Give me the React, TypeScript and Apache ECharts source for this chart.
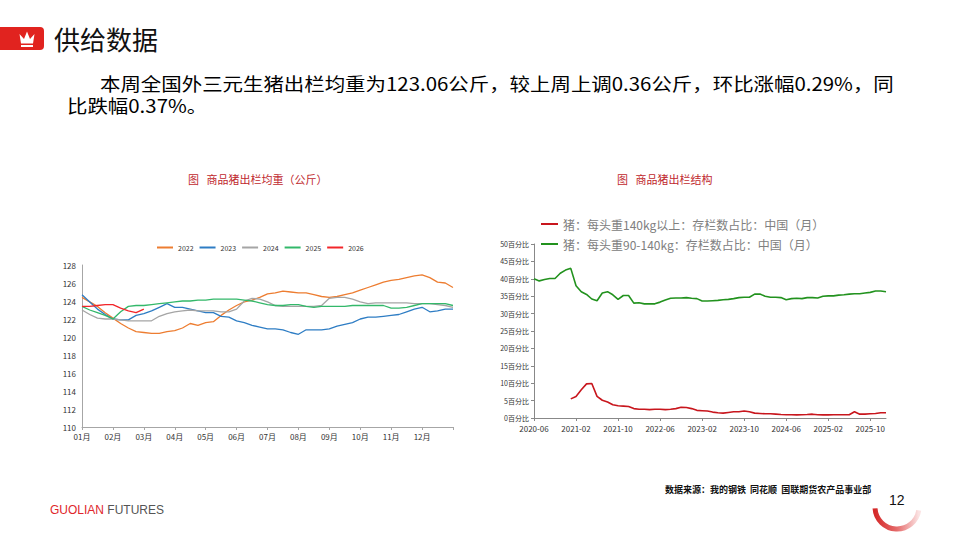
import { useEffect, useRef } from "react"
import * as echarts from "echarts"

// left chart: weekly average slaughter weight (kg), 4 points per month + year end
const months = ["01月", "02月", "03月", "04月", "05月", "06月", "07月", "08月", "09月", "10月", "11月", "12月"]
const weekCats = months.flatMap((m) => ["1", "2", "3", "4"].map((w) => m + "W" + w)).concat(["END"])

const years = ["2022", "2023", "2024", "2025", "2026"]
const yearColors = ["#ED7D31", "#2E7DC4", "#A5A5A5", "#33B86A", "#F2262A"]

const w2022 = [124.4, 123.9, 123.4, 122.7, 122.1, 121.5, 121.0, 120.6, 120.5, 120.4, 120.4, 120.6, 120.7, 121.0, 121.5, 121.3, 121.6, 121.7, 122.4, 123.0, 123.5, 123.9, 124.1, 124.4, 124.8, 124.9, 125.1, 125.0, 124.9, 124.9, 124.7, 124.5, 124.4, 124.5, 124.7, 124.9, 125.2, 125.5, 125.8, 126.1, 126.3, 126.4, 126.6, 126.8, 126.9, 126.6, 126.1, 126.0, 125.5]
const w2023 = [124.7, 123.9, 123.1, 122.5, 122.0, 121.9, 121.9, 122.4, 122.6, 122.9, 123.3, 123.7, 123.3, 123.3, 123.1, 122.9, 122.7, 122.7, 122.3, 122.2, 121.8, 121.6, 121.3, 121.1, 120.9, 120.9, 120.8, 120.5, 120.3, 120.8, 120.8, 120.8, 120.9, 121.2, 121.4, 121.6, 122.0, 122.2, 122.2, 122.3, 122.4, 122.5, 122.8, 123.1, 123.3, 122.8, 122.9, 123.1, 123.1]
const w2024 = [123.0, 122.5, 122.1, 122.0, 122.0, 121.9, 121.8, 121.8, 121.8, 121.8, 122.3, 122.6, 122.8, 122.9, 123.0, 122.9, 122.9, 122.9, 122.8, 122.8, 123.1, 124.0, 124.3, 124.2, 123.9, 123.5, 123.4, 123.4, 123.4, 123.4, 123.4, 123.5, 124.3, 124.4, 124.4, 124.2, 123.9, 123.7, 123.8, 123.8, 123.8, 123.8, 123.8, 123.7, 123.7, 123.7, 123.6, 123.5, 123.3]
const w2025 = [123.4, 123.0, 122.7, 122.4, 122.0, 122.8, 123.4, 123.5, 123.5, 123.6, 123.7, 123.8, 123.9, 124.0, 124.0, 124.1, 124.1, 124.2, 124.2, 124.2, 124.2, 124.1, 124.0, 123.8, 123.6, 123.5, 123.5, 123.6, 123.6, 123.4, 123.3, 123.4, 123.4, 123.4, 123.4, 123.5, 123.5, 123.5, 123.5, 123.5, 123.2, 123.2, 123.3, 123.5, 123.7, 123.7, 123.7, 123.7, 123.5]
const w2026 = [123.4, 123.4, 123.5, 123.6, 123.6, 123.2, 122.9, 122.7, 123.1]
const weightSeries = [w2022, w2023, w2024, w2025, w2026]

// right chart: monthly share of inventory by weight class (%)
const structMonths = [
  "2020-06", "2020-07", "2020-08", "2020-09", "2020-10", "2020-11", "2020-12",
  "2021-01", "2021-02", "2021-03", "2021-04", "2021-05", "2021-06", "2021-07", "2021-08", "2021-09", "2021-10", "2021-11", "2021-12",
  "2022-01", "2022-02", "2022-03", "2022-04", "2022-05", "2022-06", "2022-07", "2022-08", "2022-09", "2022-10", "2022-11", "2022-12",
  "2023-01", "2023-02", "2023-03", "2023-04", "2023-05", "2023-06", "2023-07", "2023-08", "2023-09", "2023-10", "2023-11", "2023-12",
  "2024-01", "2024-02", "2024-03", "2024-04", "2024-05", "2024-06", "2024-07", "2024-08", "2024-09", "2024-10", "2024-11", "2024-12",
  "2025-01", "2025-02", "2025-03", "2025-04", "2025-05", "2025-06", "2025-07", "2025-08", "2025-09", "2025-10", "2025-11", "2025-12",
  "2026-01",
]
const over140Name = "猪：每头重140kg以上：存栏数占比：中国（月）"
const mid90Name = "猪：每头重90-140kg：存栏数占比：中国（月）"
const over140 = [
  null, null, null, null, null, null, null,
  5.5, 6.2, 8.1, 9.8, 9.9, 6.2, 5.1, 4.6, 3.8, 3.5, 3.4, 3.3,
  2.7, 2.5, 2.5, 2.4, 2.5, 2.5, 2.4, 2.5, 2.7, 3.1, 3.0, 2.7,
  2.2, 2.1, 2.0, 1.7, 1.5, 1.4, 1.6, 1.8, 1.8, 2.0, 1.8, 1.4,
  1.3, 1.2, 1.2, 1.1, 1.0, 0.95, 0.95, 0.9, 0.95, 1.0, 1.1, 0.95,
  0.9, 0.9, 0.95, 0.95, 0.95, 0.95, 1.8, 1.1, 1.1, 1.2, 1.3, 1.5,
  1.5,
]
const mid90 = [
  40.0, 39.4, 39.8, 40.1, 40.1, 41.6, 42.5,
  43.0, 38.0, 36.3, 35.5, 34.2, 33.7, 35.9, 36.3, 35.4, 34.1, 35.2, 35.2,
  33.0, 33.1, 32.8, 32.8, 32.8, 33.3, 33.9, 34.4, 34.5, 34.5, 34.6, 34.4,
  34.3, 33.6, 33.6, 33.7, 33.8, 34.0, 34.1, 34.3, 34.6, 34.7, 34.7, 35.6,
  35.6, 35.0, 34.7, 34.7, 34.6, 34.0, 34.3, 34.4, 34.3, 34.6, 34.6, 34.5,
  35.0, 35.1, 35.1, 35.3, 35.4, 35.6, 35.7, 35.7, 35.9, 36.1, 36.5, 36.5,
  36.3,
]

const FONT = "Noto Sans CJK SC"

export default function App() {
  const chartRef = useRef<HTMLDivElement>(null)

  useEffect(() => {
    if (!chartRef.current) return
    const chart = echarts.init(chartRef.current, undefined, { renderer: "svg" })

    const option = {
      animation: false,
      backgroundColor: "#ffffff",
      textStyle: { fontFamily: FONT },
      legend: [
        {
          data: years,
          left: 152,
          top: 239,
          itemWidth: 16,
          itemHeight: 2,
          itemGap: 6,
          icon: "rect",
          textStyle: { fontSize: 7, color: "#333" },
        },
        {
          data: [over140Name, mid90Name],
          orient: "vertical",
          left: 536,
          top: 213,
          itemWidth: 17,
          itemHeight: 2,
          itemGap: 8,
          icon: "rect",
          textStyle: { fontSize: 12, color: "#808080" },
        },
      ],
      grid: [
        { left: 82, right: 506, top: 265, bottom: 130 },
        { left: 534, right: 73, top: 244, bottom: 139 },
      ],
      xAxis: [
        {
          type: "category",
          gridIndex: 0,
          data: weekCats,
          boundaryGap: false,
          axisLine: { lineStyle: { color: "#A6A6A6" } },
          axisTick: { interval: (i: number) => i % 4 === 0, length: 3, lineStyle: { color: "#A6A6A6" } },
          axisLabel: {
            interval: (i: number) => i % 4 === 0 && i < 48,
            formatter: (v: string) => v.slice(0, 3),
            fontSize: 8,
            color: "#333",
            margin: 5,
          },
        },
        {
          type: "category",
          gridIndex: 1,
          data: structMonths,
          boundaryGap: false,
          axisLine: { lineStyle: { color: "#888" } },
          axisTick: { interval: (i: number) => i % 8 === 0, length: 3, lineStyle: { color: "#888" } },
          axisLabel: {
            interval: (i: number) => i % 8 === 0,
            fontSize: 8,
            color: "#333",
            margin: 6,
          },
        },
      ],
      yAxis: [
        {
          type: "value",
          gridIndex: 0,
          min: 110,
          max: 128,
          interval: 2,
          axisLine: { show: true, lineStyle: { color: "#A6A6A6" } },
          axisTick: { show: false },
          splitLine: { show: false },
          axisLabel: { fontSize: 8, color: "#333", margin: 6 },
        },
        {
          type: "value",
          gridIndex: 1,
          min: 0,
          max: 50,
          interval: 5,
          axisLine: { show: true, lineStyle: { color: "#888" } },
          axisTick: { show: true, length: 3, lineStyle: { color: "#888" } },
          splitLine: { show: false },
          axisLabel: { fontSize: 7, color: "#333", margin: 5, formatter: "{value}百分比" },
        },
      ],
      series: [
        ...years.map((y, k) => ({
          name: y,
          type: "line",
          xAxisIndex: 0,
          yAxisIndex: 0,
          data: weightSeries[k],
          showSymbol: false,
          lineStyle: { width: 1.3, color: yearColors[k] },
          itemStyle: { color: yearColors[k] },
        })),
        {
          name: over140Name,
          type: "line",
          xAxisIndex: 1,
          yAxisIndex: 1,
          data: over140,
          showSymbol: false,
          lineStyle: { width: 1.6, color: "#C8161D" },
          itemStyle: { color: "#C8161D" },
        },
        {
          name: mid90Name,
          type: "line",
          xAxisIndex: 1,
          yAxisIndex: 1,
          data: mid90,
          showSymbol: false,
          lineStyle: { width: 1.6, color: "#22921E" },
          itemStyle: { color: "#22921E" },
        },
      ],
      graphic: [
        // header badge
        { type: "rect", shape: { x: 0, y: 27, width: 44, height: 23, r: [0, 4, 4, 0] }, style: { fill: "#E1231F" } },
        {
          type: "polygon",
          shape: { points: [[19.5, 34], [24, 39], [27, 31.5], [30, 39], [34.5, 34], [33, 43.5], [21, 43.5]] },
          style: { fill: "#ffffff" },
        },
        { type: "rect", shape: { x: 21, y: 45, width: 12, height: 2 }, style: { fill: "#ffffff" } },
        {
          type: "text",
          left: 54,
          top: 25,
          style: { text: "供给数据", fontSize: 26, fill: "#111", fontFamily: FONT },
        },
        {
          type: "text",
          x: 100,
          y: 75,
          scaleX: 1.135,
          style: {
            text: "本周全国外三元生猪出栏均重为123.06公斤，较上周上调0.36公斤，环比涨幅0.29%，同",
            fontSize: 18,
            lineHeight: 18,
            fill: "#000",
            fontFamily: FONT,
          },
        },
        {
          type: "text",
          x: 67,
          y: 97,
          scaleX: 1.135,
          style: { text: "比跌幅0.37%。", fontSize: 18, lineHeight: 18, fill: "#000", fontFamily: FONT },
        },
        {
          type: "text",
          left: 188,
          top: 173,
          style: { text: "图   商品猪出栏均重（公斤）", fontSize: 11, fill: "#C0282D", fontFamily: FONT },
        },
        {
          type: "text",
          left: 617,
          top: 173,
          style: { text: "图   商品猪出栏结构", fontSize: 11, fill: "#C0282D", fontFamily: FONT },
        },
        // footer
        {
          type: "text",
          left: 665,
          top: 485,
          style: {
            text: "数据来源：我的钢铁  同花顺  国联期货农产品事业部",
            fontSize: 9,
            fontWeight: "bold",
            fill: "#111",
            fontFamily: FONT,
          },
        },
        {
          type: "text",
          left: 50,
          top: 504,
          style: {
            text: "{r|GUOLIAN} {g|FUTURES}",
            rich: {
              r: { fontSize: 12, fill: "#E0262B", fontFamily: "Liberation Sans" },
              g: { fontSize: 12, fill: "#555", fontFamily: "Liberation Sans" },
            },
          },
        },
        {
          type: "arc",
          shape: { cx: 897, cy: 507, r: 22, startAngle: Math.PI * 0.05, endAngle: Math.PI * 0.98 },
          style: {
            stroke: new echarts.graphic.LinearGradient(1, 0, 0, 0, [
              { offset: 0, color: "#FBE3E3" },
              { offset: 0.5, color: "#E56B6B" },
              { offset: 1, color: "#D52A2A" },
            ]),
            lineWidth: 5,
            fill: "none",
          },
        },
        {
          type: "text",
          left: 889,
          top: 493,
          style: { text: "12", fontSize: 14, fill: "#111", fontFamily: "Liberation Sans" },
        },
      ],
    }

    chart.setOption(option)
    return () => {
      chart.dispose()
    }
  }, [])

  return <div ref={chartRef} style={{ position: "fixed", left: 0, top: 0, width: 959, height: 557 }} />
}
